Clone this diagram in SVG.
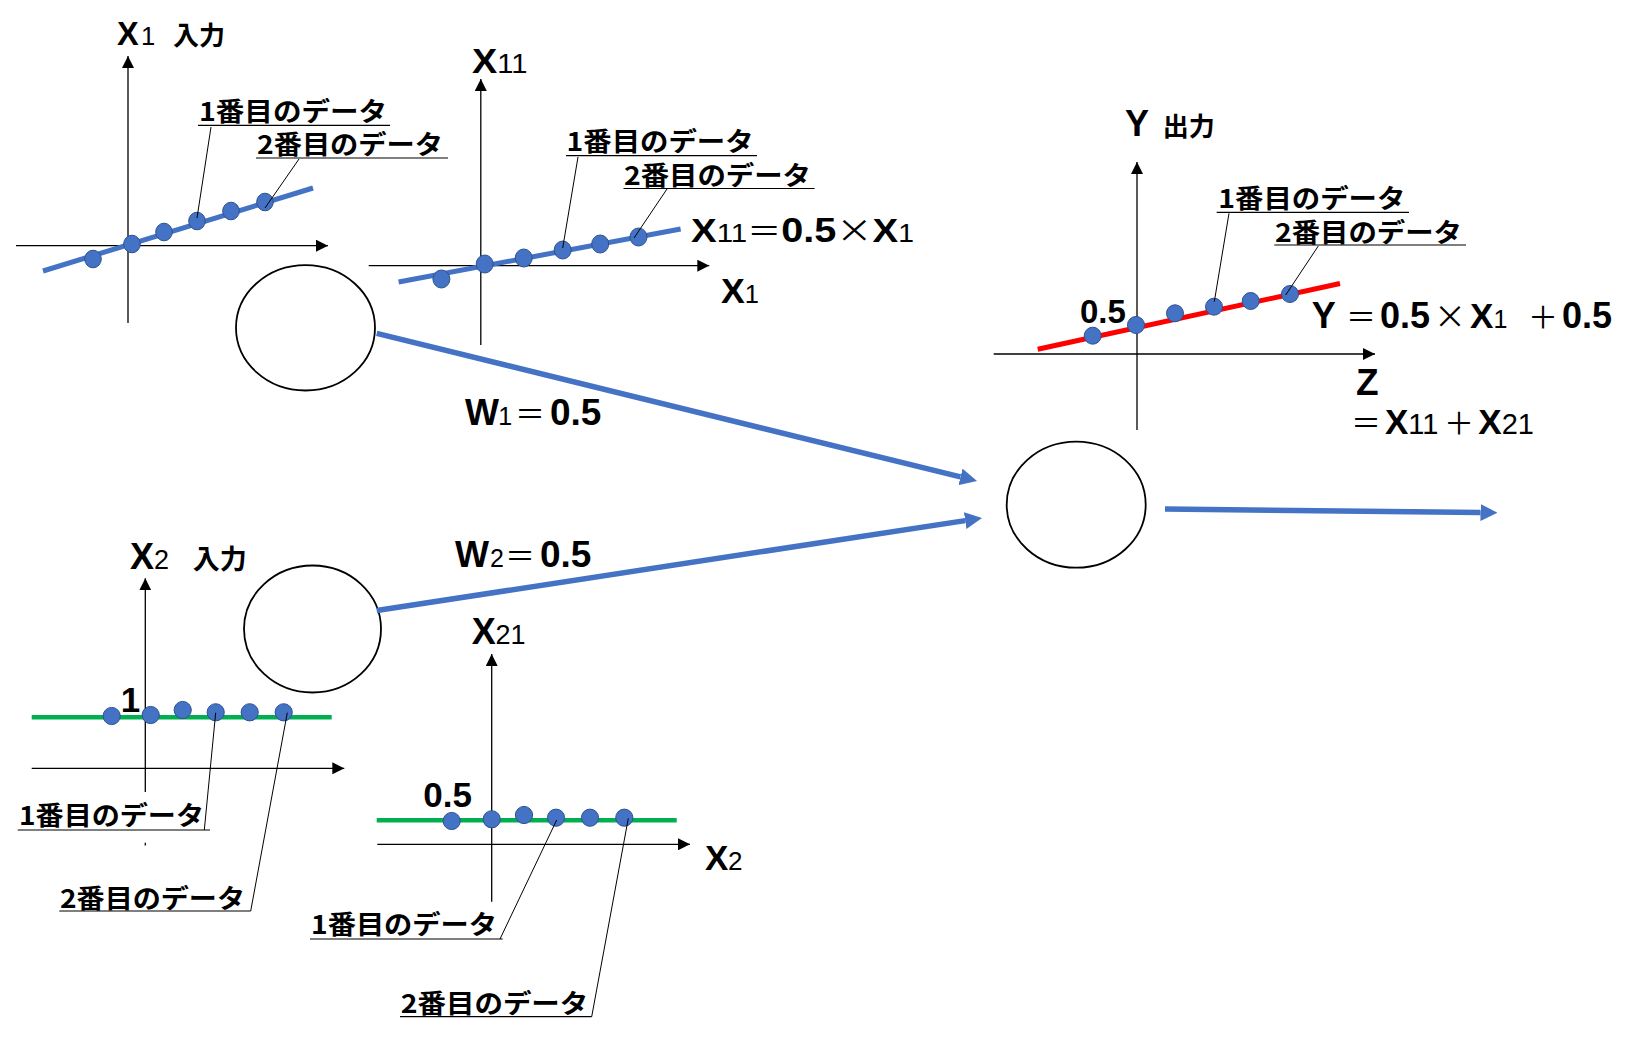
<svg xmlns="http://www.w3.org/2000/svg" width="1637" height="1040" viewBox="0 0 1637 1040">
<defs>
<style>
text{font-family:"Liberation Sans","Noto Sans CJK JP",sans-serif;fill:#000}
.b{font-weight:bold}
.s{font-weight:normal}
.sym{font-family:"Noto Sans CJK JP",sans-serif;font-weight:normal;font-size:30px}
.mul{font-family:"Noto Sans CJK JP",sans-serif;font-weight:normal;font-size:32px}
.jp{font-family:"Noto Sans CJK JP",sans-serif;font-weight:bold}
.jl{font-family:"Noto Sans CJK JP",sans-serif;font-weight:bold;font-size:26px}
.ax{stroke:#000;stroke-width:1.3;fill:none;marker-end:url(#axh)}
.ul{stroke:#000;stroke-width:1.2}
.ld{stroke:#000;stroke-width:1}
.bl{stroke:#4472C4;stroke-width:5;fill:none}
.gr{stroke:#00B050;stroke-width:4.5;fill:none}
.rd{stroke:#FF0000;stroke-width:5;fill:none}
.dot{fill:#4472C4;stroke:#2F528F;stroke-width:1}
.node{fill:#fff;stroke:#000;stroke-width:1.8}
.con{stroke:#4472C4;stroke-width:5.5;fill:none;marker-end:url(#bah)}
</style>
<marker id="axh" markerUnits="userSpaceOnUse" markerWidth="12" markerHeight="12" viewBox="0 0 12 12" refX="12" refY="6" orient="auto"><path d="M0,0 L12,6 L0,12 z" fill="#000"/></marker>
<marker id="bah" markerUnits="userSpaceOnUse" markerWidth="17" markerHeight="17" viewBox="0 0 17 17" refX="0" refY="8.5" orient="auto"><path d="M0,0 L17,8.5 L0,17 z" fill="#4472C4"/></marker>
</defs>
<rect width="1637" height="1040" fill="#fff"/>

<g id="chart-x1">
<line class="ax" x1="128" y1="323" x2="128" y2="56"/>
<line class="ax" x1="16" y1="245.7" x2="328" y2="245.7"/>
<line class="bl" x1="43" y1="271" x2="313" y2="188"/>
<ellipse class="dot" cx="93" cy="259" rx="8.3" ry="8.8"/>
<ellipse class="dot" cx="132" cy="244" rx="8.3" ry="8.8"/>
<ellipse class="dot" cx="164" cy="232" rx="8.3" ry="8.8"/>
<ellipse class="dot" cx="197" cy="221" rx="8.3" ry="8.8"/>
<ellipse class="dot" cx="231" cy="211" rx="8.3" ry="8.8"/>
<ellipse class="dot" cx="265" cy="202" rx="8.3" ry="8.8"/>
<text y="45"><tspan x="117" class="b" font-size="32.5">X</tspan><tspan x="141" class="s" font-size="25.6">1 </tspan><tspan x="173" class="jp" font-size="26">入力</tspan></text>
<text class="jl" x="199" y="121" textLength="188" lengthAdjust="spacingAndGlyphs">1番目のデータ</text>
<line class="ul" x1="198" y1="125.3" x2="390" y2="125.3"/>
<line class="ld" x1="211" y1="127" x2="197" y2="218"/>
<text class="jl" x="257" y="154" textLength="186" lengthAdjust="spacingAndGlyphs">2番目のデータ</text>
<line class="ul" x1="256" y1="158" x2="448" y2="158"/>
<line class="ld" x1="299" y1="159" x2="265" y2="208"/>
</g>

<g id="chart-x11">
<line class="ax" x1="480.8" y1="345" x2="480.8" y2="79"/>
<line class="ax" x1="368.7" y1="265.7" x2="709.3" y2="265.7"/>
<line class="bl" x1="398.6" y1="282" x2="680.6" y2="229"/>
<ellipse class="dot" cx="441.4" cy="279" rx="8.5" ry="9"/>
<ellipse class="dot" cx="484.7" cy="264" rx="8.5" ry="9"/>
<ellipse class="dot" cx="523.7" cy="258" rx="8.5" ry="9"/>
<ellipse class="dot" cx="562.7" cy="250" rx="8.5" ry="9"/>
<ellipse class="dot" cx="600.2" cy="244" rx="8.5" ry="9"/>
<ellipse class="dot" cx="638.5" cy="237" rx="8.5" ry="9"/>
<text x="472" y="73" textLength="55.5" lengthAdjust="spacingAndGlyphs"><tspan class="b" font-size="35">X</tspan><tspan class="s" font-size="27">11</tspan></text>
<text x="721" y="303" textLength="38" lengthAdjust="spacingAndGlyphs"><tspan class="b" font-size="35">X</tspan><tspan class="s" font-size="25">1</tspan></text>
<text x="691" y="242" textLength="223" lengthAdjust="spacingAndGlyphs"><tspan class="b" font-size="34">X</tspan><tspan class="s" font-size="26">11</tspan><tspan class="sym">＝</tspan><tspan class="b" font-size="35">0.5</tspan><tspan class="mul">×</tspan><tspan class="b" font-size="34">X</tspan><tspan class="s" font-size="25">1</tspan></text>
<text class="jl" x="566.6" y="151" textLength="187" lengthAdjust="spacingAndGlyphs">1番目のデータ</text>
<line class="ul" x1="566" y1="155.7" x2="757" y2="155.7"/>
<line class="ld" x1="578" y1="157" x2="562.7" y2="248"/>
<text class="jl" x="624" y="185" textLength="187" lengthAdjust="spacingAndGlyphs">2番目のデータ</text>
<line class="ul" x1="623.5" y1="188.5" x2="814.6" y2="188.5"/>
<line class="ld" x1="667" y1="189" x2="634" y2="238"/>
</g>

<g id="chart-y">
<line class="ax" x1="1137" y1="430" x2="1137" y2="162"/>
<line class="ax" x1="993.7" y1="354" x2="1375" y2="354"/>
<line class="rd" x1="1037.7" y1="349.3" x2="1340" y2="283.5"/>
<circle class="dot" cx="1092.7" cy="335.7" r="8.5"/>
<circle class="dot" cx="1136" cy="325" r="8.5"/>
<circle class="dot" cx="1175" cy="313.3" r="8.5"/>
<circle class="dot" cx="1214" cy="306.7" r="8.5"/>
<circle class="dot" cx="1250.7" cy="301" r="8.5"/>
<circle class="dot" cx="1290" cy="294" r="8.5"/>
<text y="136"><tspan x="1125" class="b" font-size="36">Y </tspan><tspan x="1162.7" class="jp" font-size="26">出力</tspan></text>
<text x="1080" y="323" class="b" font-size="33">0.5</text>
<text y="327.7"><tspan x="1311.7" class="b" font-size="36">Y </tspan><tspan x="1346" class="sym">＝</tspan><tspan x="1380" class="b" font-size="36">0.5</tspan><tspan x="1434" class="mul">×</tspan><tspan x="1470" class="b" font-size="35">X</tspan><tspan x="1493.5" class="s" font-size="25">1 </tspan><tspan x="1528" class="sym">＋</tspan><tspan x="1562" class="b" font-size="36">0.5</tspan></text>
<text><tspan x="1356" y="395" class="b" font-size="37">Z</tspan><tspan x="1351" y="433.5" class="sym">＝</tspan><tspan x="1385" class="b" font-size="35">X</tspan><tspan x="1408.3" class="s" font-size="29">11</tspan><tspan x="1444" class="sym">＋</tspan><tspan x="1478.3" class="b" font-size="35">X</tspan><tspan x="1501.7" class="s" font-size="29">21</tspan></text>
<text class="jl" x="1218.3" y="208.3" textLength="187" lengthAdjust="spacingAndGlyphs">1番目のデータ</text>
<line class="ul" x1="1216.7" y1="212.3" x2="1409" y2="212.3"/>
<line class="ld" x1="1229" y1="213.3" x2="1214.3" y2="301.7"/>
<text class="jl" x="1275" y="241.7" textLength="187" lengthAdjust="spacingAndGlyphs">2番目のデータ</text>
<line class="ul" x1="1274.3" y1="245" x2="1466" y2="245"/>
<line class="ld" x1="1318.3" y1="246" x2="1285.7" y2="295"/>
</g>

<g id="chart-x2">
<line class="ax" x1="145.3" y1="792" x2="145.3" y2="578.3"/>
<line stroke="#000" stroke-width="1.3" x1="145.3" y1="842.7" x2="145.3" y2="845.5"/>
<line class="ax" x1="31.7" y1="768.3" x2="344.3" y2="768.3"/>
<line class="gr" x1="31.7" y1="717.3" x2="331.7" y2="717.3"/>
<circle class="dot" cx="111.7" cy="716" r="8.6"/>
<circle class="dot" cx="150.7" cy="715" r="8.6"/>
<circle class="dot" cx="182.7" cy="710" r="8.6"/>
<circle class="dot" cx="215.7" cy="712.3" r="8.6"/>
<circle class="dot" cx="249.7" cy="712.3" r="8.6"/>
<circle class="dot" cx="283.7" cy="712.3" r="8.6"/>
<text y="569.3"><tspan x="130" class="b" font-size="36">X</tspan><tspan x="154" class="s" font-size="27">2 </tspan><tspan x="192.7" class="jp" font-size="27">入力</tspan></text>
<text x="120.7" y="711.7" class="b" font-size="35">1</text>
<text class="jl" x="19" y="825" textLength="185" lengthAdjust="spacingAndGlyphs">1番目のデータ</text>
<line class="ul" x1="17.7" y1="830" x2="210" y2="830"/>
<line class="ld" x1="204.3" y1="830" x2="215.7" y2="712.7"/>
<text class="jl" x="60" y="907.7" textLength="185" lengthAdjust="spacingAndGlyphs">2番目のデータ</text>
<line class="ul" x1="59.3" y1="911" x2="250.7" y2="911"/>
<line class="ld" x1="250.7" y1="911" x2="287.3" y2="712.7"/>
</g>

<g id="chart-x21">
<line class="ax" x1="491.7" y1="901.7" x2="491.7" y2="654"/>
<line class="ax" x1="377.3" y1="844.3" x2="690" y2="844.3"/>
<line class="gr" x1="376.7" y1="820.3" x2="676.7" y2="820.3"/>
<circle class="dot" cx="451.7" cy="821" r="8.6"/>
<circle class="dot" cx="491.7" cy="819.3" r="8.6"/>
<circle class="dot" cx="524" cy="815" r="8.6"/>
<circle class="dot" cx="556" cy="817.7" r="8.6"/>
<circle class="dot" cx="590" cy="817.7" r="8.6"/>
<circle class="dot" cx="624.3" cy="817.7" r="8.6"/>
<text y="644"><tspan x="471.7" class="b" font-size="36">X</tspan><tspan x="495.5" class="s" font-size="27">21</tspan></text>
<text x="423.3" y="806.7" class="b" font-size="35">0.5</text>
<text y="870"><tspan x="705" class="b" font-size="35">X</tspan><tspan x="728" class="s" font-size="26">2</tspan></text>
<text class="jl" x="311" y="933.8" textLength="186" lengthAdjust="spacingAndGlyphs">1番目のデータ</text>
<line class="ul" x1="310" y1="939" x2="502.7" y2="939"/>
<line class="ld" x1="500" y1="939" x2="556.7" y2="820"/>
<text class="jl" x="400.7" y="1012.7" textLength="187.6" lengthAdjust="spacingAndGlyphs">2番目のデータ</text>
<line class="ul" x1="400" y1="1016.7" x2="591.7" y2="1016.7"/>
<line class="ld" x1="591.7" y1="1016.7" x2="628.3" y2="818.3"/>
</g>

<g id="node-x1"><ellipse class="node" cx="305.5" cy="327.8" rx="69.5" ry="62.7"/></g>
<g id="node-x2"><ellipse class="node" cx="312.5" cy="629" rx="68.5" ry="63.5"/></g>
<g id="node-y"><ellipse class="node" cx="1076.2" cy="504.7" rx="69.5" ry="63"/></g>

<g id="connectors">
<line class="con" x1="376.7" y1="333.3" x2="960.5" y2="476.9"/>
<line class="con" x1="376.7" y1="610.5" x2="965.2" y2="520.6"/>
<line class="con" x1="1165" y1="509" x2="1480.5" y2="512.5"/>
</g>

<g id="weights">
<text y="425"><tspan x="465" class="b" font-size="36">W</tspan><tspan x="498.3" class="s" font-size="25">1</tspan><tspan x="515" class="sym">＝</tspan><tspan x="550" class="b" font-size="37">0.5</tspan></text>
<text y="566.7"><tspan x="455" class="b" font-size="36">W</tspan><tspan x="490" class="s" font-size="25">2</tspan><tspan x="505" class="sym">＝</tspan><tspan x="540" class="b" font-size="37">0.5</tspan></text>
</g>
</svg>
